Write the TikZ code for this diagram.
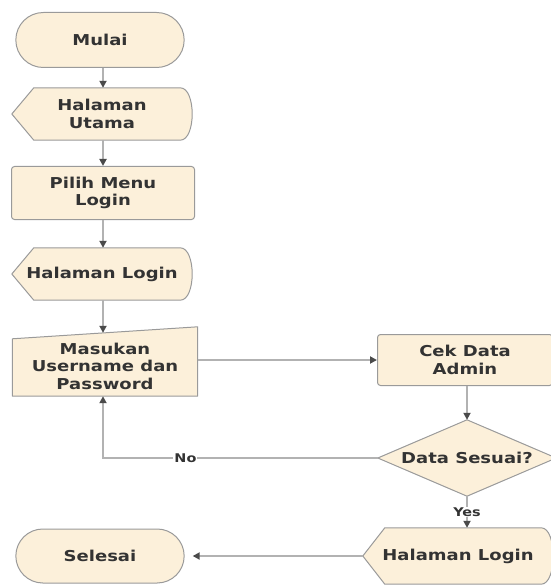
\documentclass[tikz,border=0pt]{standalone}
\usepackage{fontspec}
\setmainfont{DejaVu Sans}[FakeStretch=1.2]
\usetikzlibrary{arrows.meta,shapes.misc,calc}
\pgfdeclarelayer{bg}\pgfsetlayers{bg,main}
\definecolor{cream}{HTML}{FCF0DA}
\definecolor{edge}{HTML}{9A9A9A}
\definecolor{wirec}{HTML}{B2B2B2}
\definecolor{tipc}{HTML}{4A4A4A}
\definecolor{txt}{HTML}{333333}
\tikzset{
 lbl/.style={font=\fontsize{15}{17.5}\selectfont\bfseries, text=txt, align=center},
 term/.style={lbl, rounded rectangle, fill=cream, draw=edge, line width=1pt, minimum width=175pt, minimum height=55pt},
 proc/.style={lbl, rectangle, rounded corners=3pt, fill=cream, draw=edge, line width=1pt},
 ghost/.style={lbl, rectangle, inner sep=0pt},
 shp/.style={fill=cream, draw=edge, line width=1pt, line join=round},
 wire/.style={draw=wirec, line width=1.8pt, -{Triangle[length=7pt,width=7pt,color=tipc]}},
 tag/.style={font=\fontsize{12}{14}\selectfont\bfseries, text=txt, fill=white, inner sep=1pt}
}
\newcommand\dispshape[1]{%
 \path[shp] (#1.west) -- ([xshift=22pt]#1.north west) -- ([xshift=-12pt]#1.north east)
  .. controls ([xshift=4pt]#1.north east) and ([xshift=4pt]#1.south east) .. ([xshift=-12pt]#1.south east)
  -- ([xshift=22pt]#1.south west) -- cycle;}
\begin{document}
\begin{tikzpicture}[x=1pt,y=-1pt]
\useasboundingbox (0,0) rectangle (550,585);
% nodes
\node[term] (mulai) at (100,40) {Mulai};
\node[ghost, minimum width=180pt, minimum height=52pt] (hu) at (102,114) {Halaman\\Utama};
\node[proc, minimum width=183pt, minimum height=53pt] (pm) at (103,193) {Pilih Menu\\Login};
\node[ghost, minimum width=180pt, minimum height=52pt] (hl) at (102,274) {Halaman Login};
\node[ghost, minimum width=185pt, minimum height=60pt] (mu) at (105,366) {Masukan\\Username dan\\Password};
\node[proc, minimum width=175pt, minimum height=51pt] (cek) at (465,360) {Cek Data\\Admin};
\node[ghost, minimum width=178pt, minimum height=76pt] (ds) at (467,458) {Data Sesuai?};
\node[ghost, minimum width=190pt, minimum height=56pt] (hl2) at (458,556) {Halaman Login};
\node[term, minimum height=54pt] (sel) at (100,556) {Selesai};
\coordinate (colx) at (103,0);
% shapes on background
\begin{pgfonlayer}{bg}
 \dispshape{hu}
 \dispshape{hl}
 \dispshape{hl2}
 \path[shp] ([yshift=0pt]mu.south west) -- (mu.south east) -- ([yshift=9pt]mu.north east) -- ([yshift=-3pt]mu.north west) -- cycle;
 \path[shp] (ds.west) -- (ds.north) -- (ds.east) -- (ds.south) -- cycle;
\end{pgfonlayer}
% connectors
\draw[wire] (colx |- mulai.south) -- (colx |- hu.north);
\draw[wire] (colx |- hu.south) -- (colx |- pm.north);
\draw[wire] (colx |- pm.south) -- (colx |- hl.north);
\draw[wire] (colx |- hl.south) -- ([yshift=3pt]colx |- mu.north);
\draw[wire] (mu.east |- cek.west) -- (cek.west);
\draw[wire] (ds.north |- cek.south) -- (ds.north);
\draw[wire] (ds.west) -- node[tag, pos=0.7] {No} (colx |- ds.west) -- (colx |- mu.south);
\draw[wire] (ds.south) -- node[tag] {Yes} (ds.south |- hl2.north);
\draw[wire] (hl2.west) -- ([xshift=8pt]sel.east);
\end{tikzpicture}
\end{document}
